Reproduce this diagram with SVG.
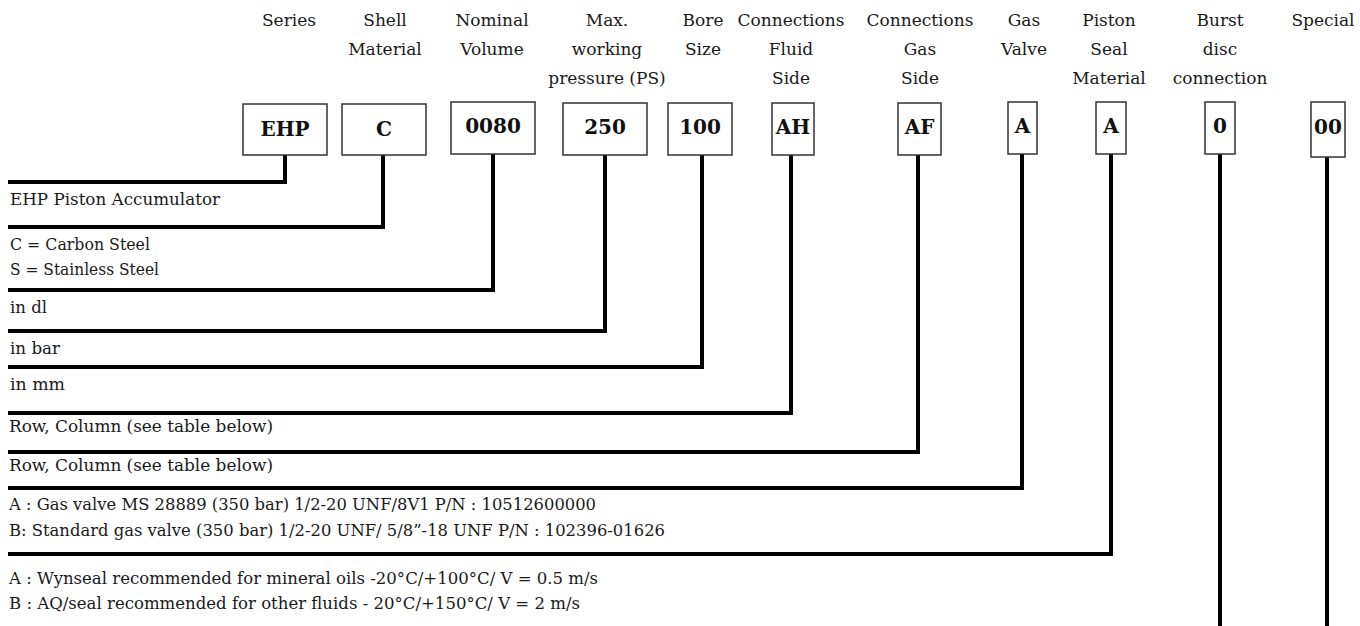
<svg xmlns="http://www.w3.org/2000/svg" width="1360" height="626" viewBox="0 0 1360 626">
<style>
.bg{fill:#ffffff}
.hd{font-family:"DejaVu Serif","Liberation Serif",serif;font-size:17px;fill:#1a1a1a;text-anchor:middle}
.bx{fill:#ffffff;stroke:#333333;stroke-width:1.5}
.bt{font-family:"DejaVu Serif","Liberation Serif",serif;font-size:20px;font-weight:bold;fill:#111111;text-anchor:middle}
.tx{font-family:"DejaVu Serif","Liberation Serif",serif;font-size:17px;fill:#1a1a1a}
.ln{fill:none;stroke:#000000;stroke-width:4;stroke-linejoin:miter;stroke-linecap:butt}
</style>
<rect class="bg" x="0" y="0" width="1360" height="626"/>

<g id="headers">
<text class="hd" x="289" y="26">Series</text>
<text class="hd" x="385" y="26">Shell</text>
<text class="hd" x="385" y="55">Material</text>
<text class="hd" x="492" y="26">Nominal</text>
<text class="hd" x="492" y="55">Volume</text>
<text class="hd" x="607" y="26">Max.</text>
<text class="hd" x="607" y="55">working</text>
<text class="hd" x="607" y="84">pressure (PS)</text>
<text class="hd" x="703" y="26">Bore</text>
<text class="hd" x="703" y="55">Size</text>
<text class="hd" x="791" y="26">Connections</text>
<text class="hd" x="791" y="55">Fluid</text>
<text class="hd" x="791" y="84">Side</text>
<text class="hd" x="920" y="26">Connections</text>
<text class="hd" x="920" y="55">Gas</text>
<text class="hd" x="920" y="84">Side</text>
<text class="hd" x="1024" y="26">Gas</text>
<text class="hd" x="1024" y="55">Valve</text>
<text class="hd" x="1109" y="26">Piston</text>
<text class="hd" x="1109" y="55">Seal</text>
<text class="hd" x="1109" y="84">Material</text>
<text class="hd" x="1220" y="26">Burst</text>
<text class="hd" x="1220" y="55">disc</text>
<text class="hd" x="1220" y="84">connection</text>
<text class="hd" x="1323" y="26">Special</text>
</g>

<g id="connectors">
<path class="ln" d="M285,155 V182 H8"/>
<path class="ln" d="M383,155 V227 H8"/>
<path class="ln" d="M493,154 V290 H8"/>
<path class="ln" d="M605,155 V331 H8"/>
<path class="ln" d="M702,155 V367 H8"/>
<path class="ln" d="M791,155 V413 H8"/>
<path class="ln" d="M918,155 V452 H8"/>
<path class="ln" d="M1022,154 V488 H8"/>
<path class="ln" d="M1111,154 V554 H8"/>
<path class="ln" d="M1220,154 V626"/>
<path class="ln" d="M1327,154 V626"/>
</g>

<g id="node-series"><rect class="bx" x="243" y="104" width="84" height="51"/><text class="bt" x="285" y="136">EHP</text></g>
<g id="node-shell"><rect class="bx" x="342" y="104" width="84" height="51"/><text class="bt" x="384" y="136">C</text></g>
<g id="node-volume"><rect class="bx" x="451" y="102" width="84" height="52"/><text class="bt" x="493" y="133">0080</text></g>
<g id="node-pressure"><rect class="bx" x="563" y="103" width="84" height="52"/><text class="bt" x="605" y="134">250</text></g>
<g id="node-bore"><rect class="bx" x="668" y="103" width="64" height="52"/><text class="bt" x="700" y="134">100</text></g>
<g id="node-fluid"><rect class="bx" x="772" y="103" width="42" height="52"/><text class="bt" x="793" y="134">AH</text></g>
<g id="node-gasside"><rect class="bx" x="898" y="103" width="43" height="52"/><text class="bt" x="919.5" y="134">AF</text></g>
<g id="node-gasvalve"><rect class="bx" x="1008" y="102" width="29" height="52"/><text class="bt" x="1022.5" y="133">A</text></g>
<g id="node-seal"><rect class="bx" x="1096" y="102" width="30" height="52"/><text class="bt" x="1111" y="133">A</text></g>
<g id="node-burst"><rect class="bx" x="1205" y="102" width="30" height="52"/><text class="bt" x="1220" y="133">0</text></g>
<g id="node-special"><rect class="bx" x="1311" y="102" width="34" height="55"/><text class="bt" x="1328" y="134">00</text></g>

<g id="descriptions">
<text class="tx" x="10" y="205" textLength="210" lengthAdjust="spacingAndGlyphs">EHP Piston Accumulator</text>
<text class="tx" x="10" y="250" textLength="140" lengthAdjust="spacingAndGlyphs">C = Carbon Steel</text>
<text class="tx" x="10" y="275" textLength="149" lengthAdjust="spacingAndGlyphs">S = Stainless Steel</text>
<text class="tx" x="10" y="313" textLength="37" lengthAdjust="spacingAndGlyphs">in dl</text>
<text class="tx" x="10" y="354" textLength="50" lengthAdjust="spacingAndGlyphs">in bar</text>
<text class="tx" x="10" y="390" textLength="55" lengthAdjust="spacingAndGlyphs">in mm</text>
<text class="tx" x="9" y="432" textLength="264" lengthAdjust="spacingAndGlyphs">Row, Column (see table below)</text>
<text class="tx" x="9" y="471" textLength="264" lengthAdjust="spacingAndGlyphs">Row, Column (see table below)</text>
<text class="tx" x="9" y="510" textLength="587" lengthAdjust="spacingAndGlyphs">A : Gas valve MS 28889 (350 bar) 1/2-20 UNF/8V1 P/N : 10512600000</text>
<text class="tx" x="9" y="536" textLength="656" lengthAdjust="spacingAndGlyphs">B: Standard gas valve (350 bar) 1/2-20 UNF/ 5/8”-18 UNF P/N : 102396-01626</text>
<text class="tx" x="9" y="584" textLength="589" lengthAdjust="spacingAndGlyphs">A : Wynseal recommended for mineral oils -20°C/+100°C/ V = 0.5 m/s</text>
<text class="tx" x="9" y="609" textLength="571" lengthAdjust="spacingAndGlyphs">B : AQ/seal recommended for other fluids - 20°C/+150°C/ V = 2 m/s</text>
</g>
</svg>
